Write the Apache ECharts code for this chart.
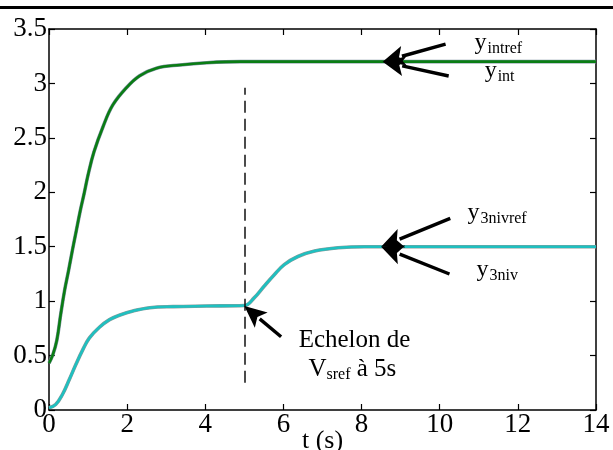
<!DOCTYPE html>
<html><head><meta charset="utf-8">
<script src="https://cdn.jsdelivr.net/npm/echarts@6/dist/echarts.min.js"></script>
<style>html,body{margin:0;padding:0;background:#fff}#c{width:613px;height:450px}</style>
</head><body><div id="c"></div>
<script>
// ---- data ----
const xTicks = [0, 2, 4, 6, 8, 10, 12, 14];
const yTicks = [0, 0.5, 1, 1.5, 2, 2.5, 3, 3.5];
const tInt   = [0, 0.1, 0.2, 0.3, 0.4, 0.5, 0.6, 0.7, 0.8, 0.9, 1.0, 1.15, 1.38, 1.63, 1.98, 2.32, 2.75, 3.35, 4.04, 4.9, 14];
const yInt   = [0.43, 0.51, 0.64, 0.88, 1.10, 1.28, 1.47, 1.65, 1.83, 1.99, 2.16, 2.37, 2.60, 2.80, 2.96, 3.07, 3.14, 3.17, 3.19, 3.2, 3.2];
const yIntRef= [0.43, 0.51, 0.64, 0.88, 1.10, 1.28, 1.47, 1.65, 1.83, 1.99, 2.16, 2.37, 2.60, 2.80, 2.96, 3.07, 3.14, 3.17, 3.19, 3.2, 3.2];
const tNiv   = [0, 0.17, 0.34, 0.52, 0.69, 0.86, 1.03, 1.29, 1.55, 1.80, 2.15, 2.58, 3.18, 4.03, 5.0, 5.25, 5.5, 5.76, 6.02, 6.37, 6.8, 7.4, 8.08, 8.55, 14];
const yNiv   = [0.02, 0.05, 0.14, 0.28, 0.42, 0.55, 0.66, 0.76, 0.83, 0.87, 0.91, 0.94, 0.95, 0.955, 0.96, 1.03, 1.135, 1.24, 1.335, 1.41, 1.46, 1.49, 1.50, 1.50, 1.50];
const yNivRef= [0.02, 0.05, 0.14, 0.28, 0.42, 0.55, 0.66, 0.76, 0.83, 0.87, 0.91, 0.94, 0.95, 0.955, 0.96, 1.03, 1.135, 1.24, 1.335, 1.41, 1.46, 1.49, 1.50, 1.50, 1.50];
const stepTime = 5;
const stepLine = [0.25, 2.96];
// annotations (data coordinates)
const arrows = [
  {tail: [10.15, 3.362], tip: [8.54, 3.2]},
  {tail: [10.23, 3.068], tip: [8.54, 3.2]},
  {tail: [10.27, 1.761], tip: [8.50, 1.5]},
  {tail: [10.25, 1.249], tip: [8.50, 1.5]},
  {tail: [5.94, 0.673],  tip: [5.0, 0.955]}
];
const subLabels = [
  {main: 'y', sub: 'intref',  at: [10.89, 3.371]},
  {main: 'y', sub: 'int',     at: [11.15, 3.114]},
  {main: 'y', sub: '3nivref', at: [10.71, 1.81]},
  {main: 'y', sub: '3niv',    at: [10.94, 1.286]}
];
const noteLine1 = {text: 'Echelon de', at: [7.82, 0.643]};
const noteLine2 = {parts: ['V', 'sref', ' à 5s'], at: [6.64, 0.377]};

const FONT = '"Liberation Serif", "Times New Roman", serif';
const zip = (a, b) => a.map((v, i) => [v, b[i]]);

const chart = echarts.init(document.getElementById('c'), null, {renderer: 'canvas'});
const axisCommon = {
  type: 'value',
  axisLine: {show: true, onZero: false, lineStyle: {color: '#000', width: 1.5}},
  axisTick: {show: true, inside: true, length: 6, lineStyle: {color: '#000', width: 1.2}},
  splitLine: {show: false}
};
const option = {
  animation: false,
  backgroundColor: '#fff',
  grid: {left: 49, right: 17, top: 29, bottom: 40, containLabel: false, outerBoundsMode: 'none'},
  xAxis: [
    Object.assign({}, axisCommon, {
      min: xTicks[0], max: xTicks[xTicks.length - 1], interval: xTicks[1] - xTicks[0], position: 'bottom',
      axisLabel: {color: '#000', fontFamily: FONT, fontSize: 27, margin: 1},
      name: 't (s)', nameLocation: 'middle', nameGap: 18, nameMoveOverlap: false,
      nameTextStyle: {color: '#000', fontFamily: FONT, fontSize: 26}
    }),
    Object.assign({}, axisCommon, {
      min: xTicks[0], max: xTicks[xTicks.length - 1], interval: xTicks[1] - xTicks[0], position: 'top',
      axisLabel: {show: false}
    })
  ],
  yAxis: [
    Object.assign({}, axisCommon, {
      min: yTicks[0], max: yTicks[yTicks.length - 1], interval: yTicks[1] - yTicks[0], position: 'left',
      axisLabel: {color: '#000', fontFamily: FONT, fontSize: 27, margin: 2}
    }),
    Object.assign({}, axisCommon, {
      min: yTicks[0], max: yTicks[yTicks.length - 1], interval: yTicks[1] - yTicks[0], position: 'right',
      axisLabel: {show: false}
    })
  ],
  series: [
    {name: 'yintref', type: 'line', data: zip(tInt, yIntRef), showSymbol: false, smooth: 0.4,
     lineStyle: {color: '#7d8fa0', width: 3.6}, z: 2},
    {name: 'yint', type: 'line', data: zip(tInt, yInt), showSymbol: false, smooth: 0.4,
     lineStyle: {color: '#0a7d14', width: 2.6}, z: 3},
    {name: 'y3nivref', type: 'line', data: zip(tNiv, yNivRef), showSymbol: false, smooth: 0.4,
     lineStyle: {color: '#8a9a9a', width: 3.6}, z: 2},
    {name: 'y3niv', type: 'line', data: zip(tNiv, yNiv), showSymbol: false, smooth: 0.4,
     lineStyle: {color: '#1fc0c0', width: 2.6}, z: 3,
     markLine: {silent: true, symbol: ['none', 'none'], label: {show: false},
       lineStyle: {type: [12, 6], color: '#111', width: 1.5},
       data: [[{coord: [stepTime, stepLine[0]]}, {coord: [stepTime, stepLine[1]]}]]}}
  ]
};
chart.setOption(option);

// ---- annotations ----
const P = (d) => chart.convertToPixel({gridIndex: 0}, d);
const mctx = document.createElement('canvas').getContext('2d');
const measure = (txt, size) => { mctx.font = size + 'px ' + FONT; return mctx.measureText(txt).width; };
const g = [];
g.push({type: 'rect', shape: {x: 0, y: 6, width: 613, height: 3}, style: {fill: '#000'}, z: 100});
arrows.forEach(a => {
  const p0 = P(a.tail), p1 = P(a.tip);
  const dx = p1[0] - p0[0], dy = p1[1] - p0[1];
  const L = Math.hypot(dx, dy), ux = dx / L, uy = dy / L;
  const hl = 22, hw = 10;
  const bx = p1[0] - ux * hl, by = p1[1] - uy * hl;
  g.push({type: 'line', shape: {x1: p0[0], y1: p0[1], x2: bx + ux * 2, y2: by + uy * 2},
          style: {stroke: '#000', lineWidth: 3.4}, z: 100});
  g.push({type: 'polygon', shape: {points: [[p1[0], p1[1]], [bx - uy * hw, by + ux * hw], [bx + ux * 5, by + uy * 5], [bx + uy * hw, by - ux * hw]]},
          style: {fill: '#000'}, z: 101});
});
subLabels.forEach(l => {
  const p = P(l.at);
  const w = measure(l.main, 24);
  g.push({type: 'text', x: p[0], y: p[1], style: {text: l.main, font: '24px ' + FONT, fill: '#000', verticalAlign: 'middle', align: 'left'}, z: 100});
  g.push({type: 'text', x: p[0] + w + 1, y: p[1] + 6, style: {text: l.sub, font: '16px ' + FONT, fill: '#000', verticalAlign: 'middle', align: 'left'}, z: 100});
});
{
  const p = P(noteLine1.at);
  g.push({type: 'text', x: p[0], y: p[1], style: {text: noteLine1.text, font: '25px ' + FONT, fill: '#000', verticalAlign: 'middle', align: 'center'}, z: 100});
  const q = P(noteLine2.at);
  let x = q[0];
  const sizes = [25, 16, 25], offs = [0, 6, 0];
  noteLine2.parts.forEach((t, i) => {
    g.push({type: 'text', x: x, y: q[1] + offs[i], style: {text: t, font: sizes[i] + 'px ' + FONT, fill: '#000', verticalAlign: 'middle', align: 'left'}, z: 100});
    x += measure(t, sizes[i]);
  });
}
chart.setOption({graphic: g});
</script>
</body></html>
